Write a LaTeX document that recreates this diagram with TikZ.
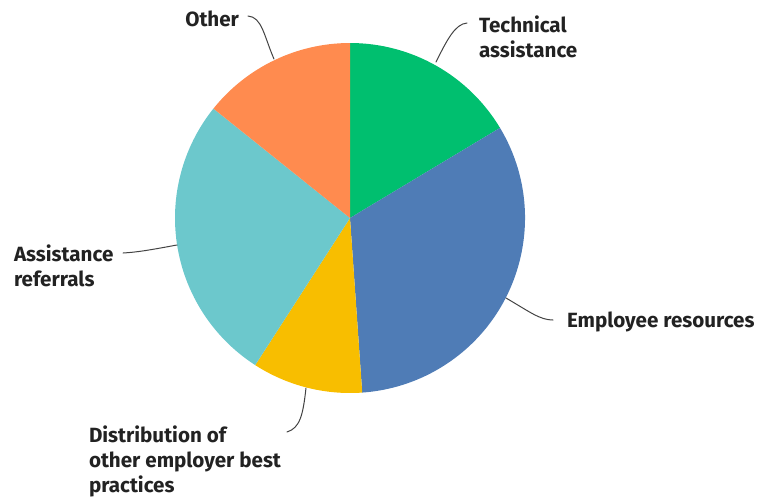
\documentclass[tikz,border=0pt]{standalone}
\usepackage{fontspec}
\setmainfont{Fira Sans}
\definecolor{techgreen}{HTML}{00BF6F}
\definecolor{empblue}{HTML}{4F7CB6}
\definecolor{distyellow}{HTML}{F8BE00}
\definecolor{refteal}{HTML}{6CC8CC}
\definecolor{otherorange}{HTML}{FF8B4F}
\definecolor{labelgray}{HTML}{222222}
\tikzset{label text/.style={inner sep=0pt, outer sep=0pt, align=left, text=labelgray,
    font=\fontsize{20.6}{25}\selectfont\bfseries},
%leader lines from the pie to its labels
leader/.style={draw=labelgray!85, line width=1pt, line cap=round}}

\begin{document}
\begin{tikzpicture}[x=1pt,y=-1pt]
\useasboundingbox (0,0) rectangle (758,496);

\coordinate (c) at (350,218);

\fill[techgreen]   (c) -- ++(-90:175) arc (-90:-31:175) -- cycle;
\fill[empblue]     (c) -- ++(-31:175) arc (-31:86:175) -- cycle;
\fill[distyellow]  (c) -- ++(86:175) arc (86:122.8:175) -- cycle;
\fill[refteal]     (c) -- ++(122.8:175) arc (122.8:218.7:175) -- cycle;
\fill[otherorange] (c) -- ++(218.7:175) arc (218.7:270:175) -- cycle;

\node[label text, anchor=east] (other) at (239,19) {Other};
\node[label text, anchor=west] (tech) at (479,37) {Technical\\assistance};
\node[label text, anchor=west] (emp) at (567,322) {Employee resources};
\node[label text, anchor=west] (ref) at (14,266) {Assistance\\referrals};
\node[label text, anchor=west] (dist) at (89,461) {Distribution of\\other employer best\\practices};

\coordinate (other-in) at (274,59);
\coordinate (other-out) at (248,16);
\coordinate (tech-in) at (436,62);
\coordinate (tech-out) at (467,23);
\coordinate (emp-in) at (506,298);
\coordinate (emp-out) at (553,320);
\coordinate (ref-in) at (177,245);
\coordinate (ref-out) at (123,253);
\coordinate (dist-in) at (306,388);
\coordinate (dist-out) at (287,432);

\draw[leader] (other-in) .. controls (264,36) and (262,17) .. (other-out);
\draw[leader] (tech-in) .. controls (447,40) and (455,24) .. (tech-out);
\draw[leader] (emp-in) .. controls (530,312) and (540,320) .. (emp-out);
\draw[leader] (ref-in) .. controls (155,249) and (140,252) .. (ref-out);
\draw[leader] (dist-in) .. controls (303,415) and (300,428) .. (dist-out);

\end{tikzpicture}
\end{document}
